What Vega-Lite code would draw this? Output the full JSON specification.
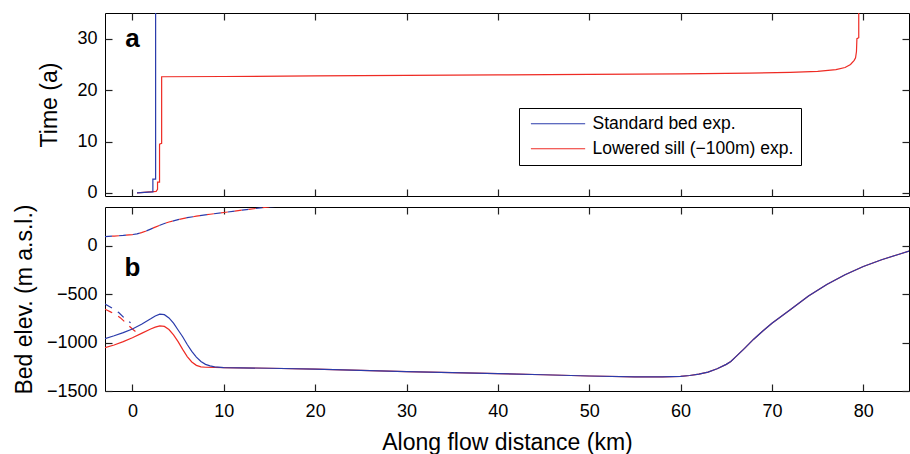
{
  "$schema": "https://vega.github.io/schema/vega-lite/v6.json",
  "padding": {"left": 13, "top": 11, "right": 0, "bottom": 0},
  "background": "white",
  "config": {
    "font": "Liberation Sans",
    "view": {"stroke": "black", "strokeWidth": 1},
    "axis": {"grid": false, "domain": false, "labelFont": "Liberation Sans", "labelFontSize": 18, "labelColor": "black", "titleFont": "Liberation Sans", "titleFontSize": 23, "titleFontWeight": "normal", "titleColor": "black"},
    "axisX": {"labelPadding": 11},
    "axisY": {"labelPadding": 8}
  },
  "bounds": "flush",
  "spacing": 11,
  "datasets": {
    "time": [
      {"exp": "Lowered sill (−100m) exp.", "i": 1, "km": 0.5, "t": 0.0},
      {"exp": "Lowered sill (−100m) exp.", "i": 2, "km": 2.6, "t": 0.3},
      {"exp": "Lowered sill (−100m) exp.", "i": 3, "km": 2.75, "t": 0.7},
      {"exp": "Lowered sill (−100m) exp.", "i": 4, "km": 2.75, "t": 2.1},
      {"exp": "Lowered sill (−100m) exp.", "i": 5, "km": 2.97, "t": 2.1},
      {"exp": "Lowered sill (−100m) exp.", "i": 6, "km": 2.97, "t": 9.5},
      {"exp": "Lowered sill (−100m) exp.", "i": 7, "km": 3.2, "t": 9.65},
      {"exp": "Lowered sill (−100m) exp.", "i": 8, "km": 3.2, "t": 22.6},
      {"exp": "Lowered sill (−100m) exp.", "i": 9, "km": 10, "t": 22.65},
      {"exp": "Lowered sill (−100m) exp.", "i": 10, "km": 20, "t": 22.75},
      {"exp": "Lowered sill (−100m) exp.", "i": 11, "km": 30, "t": 22.85},
      {"exp": "Lowered sill (−100m) exp.", "i": 12, "km": 40, "t": 22.95},
      {"exp": "Lowered sill (−100m) exp.", "i": 13, "km": 50, "t": 23.05},
      {"exp": "Lowered sill (−100m) exp.", "i": 14, "km": 60, "t": 23.15},
      {"exp": "Lowered sill (−100m) exp.", "i": 15, "km": 67.5, "t": 23.3},
      {"exp": "Lowered sill (−100m) exp.", "i": 16, "km": 72, "t": 23.45},
      {"exp": "Lowered sill (−100m) exp.", "i": 17, "km": 75, "t": 23.65},
      {"exp": "Lowered sill (−100m) exp.", "i": 18, "km": 77, "t": 24.0},
      {"exp": "Lowered sill (−100m) exp.", "i": 19, "km": 78, "t": 24.4},
      {"exp": "Lowered sill (−100m) exp.", "i": 20, "km": 78.6, "t": 25.0},
      {"exp": "Lowered sill (−100m) exp.", "i": 21, "km": 79.0, "t": 25.8},
      {"exp": "Lowered sill (−100m) exp.", "i": 22, "km": 79.15, "t": 26.3},
      {"exp": "Lowered sill (−100m) exp.", "i": 23, "km": 79.25, "t": 27.5},
      {"exp": "Lowered sill (−100m) exp.", "i": 24, "km": 79.3, "t": 30.0},
      {"exp": "Lowered sill (−100m) exp.", "i": 25, "km": 79.5, "t": 30.2},
      {"exp": "Lowered sill (−100m) exp.", "i": 26, "km": 79.5, "t": 35.5},
      {"exp": "Standard bed exp.", "i": 1, "km": 0.5, "t": 0.0},
      {"exp": "Standard bed exp.", "i": 2, "km": 2.2, "t": 0.2},
      {"exp": "Standard bed exp.", "i": 3, "km": 2.24, "t": 0.2},
      {"exp": "Standard bed exp.", "i": 4, "km": 2.24, "t": 2.7},
      {"exp": "Standard bed exp.", "i": 5, "km": 2.54, "t": 2.7},
      {"exp": "Standard bed exp.", "i": 6, "km": 2.54, "t": 35.5}
    ],
    "elev": [
      {"exp": "Standard bed exp.", "kind": "bed", "km": -3, "z": -960},
      {"exp": "Standard bed exp.", "kind": "bed", "km": -2, "z": -930},
      {"exp": "Standard bed exp.", "kind": "bed", "km": -1, "z": -897},
      {"exp": "Standard bed exp.", "kind": "bed", "km": 0, "z": -860},
      {"exp": "Standard bed exp.", "kind": "bed", "km": 1, "z": -810},
      {"exp": "Standard bed exp.", "kind": "bed", "km": 2, "z": -755},
      {"exp": "Standard bed exp.", "kind": "bed", "km": 2.5, "z": -725},
      {"exp": "Standard bed exp.", "kind": "bed", "km": 3, "z": -707},
      {"exp": "Standard bed exp.", "kind": "bed", "km": 3.5, "z": -712},
      {"exp": "Standard bed exp.", "kind": "bed", "km": 4, "z": -745},
      {"exp": "Standard bed exp.", "kind": "bed", "km": 4.5, "z": -800},
      {"exp": "Standard bed exp.", "kind": "bed", "km": 5, "z": -870},
      {"exp": "Standard bed exp.", "kind": "bed", "km": 5.5, "z": -940},
      {"exp": "Standard bed exp.", "kind": "bed", "km": 6, "z": -1020},
      {"exp": "Standard bed exp.", "kind": "bed", "km": 6.5, "z": -1090},
      {"exp": "Standard bed exp.", "kind": "bed", "km": 7, "z": -1150},
      {"exp": "Standard bed exp.", "kind": "bed", "km": 7.5, "z": -1195},
      {"exp": "Standard bed exp.", "kind": "bed", "km": 8, "z": -1225},
      {"exp": "Standard bed exp.", "kind": "bed", "km": 8.5, "z": -1240},
      {"exp": "Standard bed exp.", "kind": "bed", "km": 9, "z": -1250},
      {"exp": "Standard bed exp.", "kind": "bed", "km": 10, "z": -1258},
      {"exp": "Standard bed exp.", "kind": "bed", "km": 15, "z": -1265},
      {"exp": "Standard bed exp.", "kind": "bed", "km": 20, "z": -1275},
      {"exp": "Standard bed exp.", "kind": "bed", "km": 25, "z": -1288},
      {"exp": "Standard bed exp.", "kind": "bed", "km": 30, "z": -1300},
      {"exp": "Standard bed exp.", "kind": "bed", "km": 35, "z": -1310},
      {"exp": "Standard bed exp.", "kind": "bed", "km": 40, "z": -1320},
      {"exp": "Standard bed exp.", "kind": "bed", "km": 45, "z": -1332},
      {"exp": "Standard bed exp.", "kind": "bed", "km": 50, "z": -1345},
      {"exp": "Standard bed exp.", "kind": "bed", "km": 55, "z": -1355},
      {"exp": "Standard bed exp.", "kind": "bed", "km": 58, "z": -1355},
      {"exp": "Standard bed exp.", "kind": "bed", "km": 60, "z": -1348},
      {"exp": "Standard bed exp.", "kind": "bed", "km": 61, "z": -1340},
      {"exp": "Standard bed exp.", "kind": "bed", "km": 62, "z": -1325},
      {"exp": "Standard bed exp.", "kind": "bed", "km": 63, "z": -1305},
      {"exp": "Standard bed exp.", "kind": "bed", "km": 64, "z": -1270},
      {"exp": "Standard bed exp.", "kind": "bed", "km": 65, "z": -1225},
      {"exp": "Standard bed exp.", "kind": "bed", "km": 65.5, "z": -1195},
      {"exp": "Standard bed exp.", "kind": "bed", "km": 66, "z": -1150},
      {"exp": "Standard bed exp.", "kind": "bed", "km": 67, "z": -1060},
      {"exp": "Standard bed exp.", "kind": "bed", "km": 68, "z": -965},
      {"exp": "Standard bed exp.", "kind": "bed", "km": 69, "z": -880},
      {"exp": "Standard bed exp.", "kind": "bed", "km": 70, "z": -800},
      {"exp": "Standard bed exp.", "kind": "bed", "km": 72, "z": -660},
      {"exp": "Standard bed exp.", "kind": "bed", "km": 74, "z": -520},
      {"exp": "Standard bed exp.", "kind": "bed", "km": 76, "z": -400},
      {"exp": "Standard bed exp.", "kind": "bed", "km": 78, "z": -300},
      {"exp": "Standard bed exp.", "kind": "bed", "km": 80, "z": -215},
      {"exp": "Standard bed exp.", "kind": "bed", "km": 82, "z": -145},
      {"exp": "Standard bed exp.", "kind": "bed", "km": 84, "z": -85},
      {"exp": "Standard bed exp.", "kind": "bed", "km": 85, "z": -55},
      {"exp": "Lowered sill (−100m) exp.", "kind": "bed", "km": -3, "z": -1052},
      {"exp": "Lowered sill (−100m) exp.", "kind": "bed", "km": -2, "z": -1025},
      {"exp": "Lowered sill (−100m) exp.", "kind": "bed", "km": -1, "z": -990},
      {"exp": "Lowered sill (−100m) exp.", "kind": "bed", "km": 0, "z": -950},
      {"exp": "Lowered sill (−100m) exp.", "kind": "bed", "km": 1, "z": -905},
      {"exp": "Lowered sill (−100m) exp.", "kind": "bed", "km": 2, "z": -860},
      {"exp": "Lowered sill (−100m) exp.", "kind": "bed", "km": 2.5, "z": -840},
      {"exp": "Lowered sill (−100m) exp.", "kind": "bed", "km": 3, "z": -827},
      {"exp": "Lowered sill (−100m) exp.", "kind": "bed", "km": 3.5, "z": -833},
      {"exp": "Lowered sill (−100m) exp.", "kind": "bed", "km": 4, "z": -865},
      {"exp": "Lowered sill (−100m) exp.", "kind": "bed", "km": 4.5, "z": -920},
      {"exp": "Lowered sill (−100m) exp.", "kind": "bed", "km": 5, "z": -990},
      {"exp": "Lowered sill (−100m) exp.", "kind": "bed", "km": 5.5, "z": -1070},
      {"exp": "Lowered sill (−100m) exp.", "kind": "bed", "km": 6, "z": -1145},
      {"exp": "Lowered sill (−100m) exp.", "kind": "bed", "km": 6.5, "z": -1200},
      {"exp": "Lowered sill (−100m) exp.", "kind": "bed", "km": 7, "z": -1235},
      {"exp": "Lowered sill (−100m) exp.", "kind": "bed", "km": 7.5, "z": -1250},
      {"exp": "Lowered sill (−100m) exp.", "kind": "bed", "km": 8, "z": -1255},
      {"exp": "Lowered sill (−100m) exp.", "kind": "bed", "km": 9, "z": -1257},
      {"exp": "Lowered sill (−100m) exp.", "kind": "bed", "km": 10, "z": -1258},
      {"exp": "Lowered sill (−100m) exp.", "kind": "bed", "km": 15, "z": -1265},
      {"exp": "Lowered sill (−100m) exp.", "kind": "bed", "km": 20, "z": -1275},
      {"exp": "Lowered sill (−100m) exp.", "kind": "bed", "km": 25, "z": -1288},
      {"exp": "Lowered sill (−100m) exp.", "kind": "bed", "km": 30, "z": -1300},
      {"exp": "Lowered sill (−100m) exp.", "kind": "bed", "km": 35, "z": -1310},
      {"exp": "Lowered sill (−100m) exp.", "kind": "bed", "km": 40, "z": -1320},
      {"exp": "Lowered sill (−100m) exp.", "kind": "bed", "km": 45, "z": -1332},
      {"exp": "Lowered sill (−100m) exp.", "kind": "bed", "km": 50, "z": -1345},
      {"exp": "Lowered sill (−100m) exp.", "kind": "bed", "km": 55, "z": -1355},
      {"exp": "Lowered sill (−100m) exp.", "kind": "bed", "km": 58, "z": -1355},
      {"exp": "Lowered sill (−100m) exp.", "kind": "bed", "km": 60, "z": -1348},
      {"exp": "Lowered sill (−100m) exp.", "kind": "bed", "km": 61, "z": -1340},
      {"exp": "Lowered sill (−100m) exp.", "kind": "bed", "km": 62, "z": -1325},
      {"exp": "Lowered sill (−100m) exp.", "kind": "bed", "km": 63, "z": -1305},
      {"exp": "Lowered sill (−100m) exp.", "kind": "bed", "km": 64, "z": -1270},
      {"exp": "Lowered sill (−100m) exp.", "kind": "bed", "km": 65, "z": -1225},
      {"exp": "Lowered sill (−100m) exp.", "kind": "bed", "km": 65.5, "z": -1195},
      {"exp": "Lowered sill (−100m) exp.", "kind": "bed", "km": 66, "z": -1150},
      {"exp": "Lowered sill (−100m) exp.", "kind": "bed", "km": 67, "z": -1060},
      {"exp": "Lowered sill (−100m) exp.", "kind": "bed", "km": 68, "z": -965},
      {"exp": "Lowered sill (−100m) exp.", "kind": "bed", "km": 69, "z": -880},
      {"exp": "Lowered sill (−100m) exp.", "kind": "bed", "km": 70, "z": -800},
      {"exp": "Lowered sill (−100m) exp.", "kind": "bed", "km": 72, "z": -660},
      {"exp": "Lowered sill (−100m) exp.", "kind": "bed", "km": 74, "z": -520},
      {"exp": "Lowered sill (−100m) exp.", "kind": "bed", "km": 76, "z": -400},
      {"exp": "Lowered sill (−100m) exp.", "kind": "bed", "km": 78, "z": -300},
      {"exp": "Lowered sill (−100m) exp.", "kind": "bed", "km": 80, "z": -215},
      {"exp": "Lowered sill (−100m) exp.", "kind": "bed", "km": 82, "z": -145},
      {"exp": "Lowered sill (−100m) exp.", "kind": "bed", "km": 84, "z": -85},
      {"exp": "Lowered sill (−100m) exp.", "kind": "bed", "km": 85, "z": -55},
      {"exp": "Standard bed exp.", "kind": "surf", "km": -3, "z": 95},
      {"exp": "Standard bed exp.", "kind": "surf", "km": -2, "z": 100},
      {"exp": "Standard bed exp.", "kind": "surf", "km": -1, "z": 106},
      {"exp": "Standard bed exp.", "kind": "surf", "km": 0, "z": 115},
      {"exp": "Standard bed exp.", "kind": "surf", "km": 0.5, "z": 122},
      {"exp": "Standard bed exp.", "kind": "surf", "km": 1, "z": 135},
      {"exp": "Standard bed exp.", "kind": "surf", "km": 1.5, "z": 152},
      {"exp": "Standard bed exp.", "kind": "surf", "km": 2, "z": 172},
      {"exp": "Standard bed exp.", "kind": "surf", "km": 2.5, "z": 192},
      {"exp": "Standard bed exp.", "kind": "surf", "km": 3, "z": 212},
      {"exp": "Standard bed exp.", "kind": "surf", "km": 3.5, "z": 230},
      {"exp": "Standard bed exp.", "kind": "surf", "km": 4, "z": 245},
      {"exp": "Standard bed exp.", "kind": "surf", "km": 5, "z": 270},
      {"exp": "Standard bed exp.", "kind": "surf", "km": 6, "z": 290},
      {"exp": "Standard bed exp.", "kind": "surf", "km": 7, "z": 305},
      {"exp": "Standard bed exp.", "kind": "surf", "km": 8.5, "z": 325},
      {"exp": "Standard bed exp.", "kind": "surf", "km": 10, "z": 343},
      {"exp": "Standard bed exp.", "kind": "surf", "km": 12, "z": 368},
      {"exp": "Standard bed exp.", "kind": "surf", "km": 14, "z": 390},
      {"exp": "Standard bed exp.", "kind": "surf", "km": 16.5, "z": 415},
      {"exp": "Lowered sill (−100m) exp.", "kind": "surf", "km": -3, "z": 95},
      {"exp": "Lowered sill (−100m) exp.", "kind": "surf", "km": -2, "z": 100},
      {"exp": "Lowered sill (−100m) exp.", "kind": "surf", "km": -1, "z": 106},
      {"exp": "Lowered sill (−100m) exp.", "kind": "surf", "km": 0, "z": 115},
      {"exp": "Lowered sill (−100m) exp.", "kind": "surf", "km": 0.5, "z": 122},
      {"exp": "Lowered sill (−100m) exp.", "kind": "surf", "km": 1, "z": 135},
      {"exp": "Lowered sill (−100m) exp.", "kind": "surf", "km": 1.5, "z": 152},
      {"exp": "Lowered sill (−100m) exp.", "kind": "surf", "km": 2, "z": 172},
      {"exp": "Lowered sill (−100m) exp.", "kind": "surf", "km": 2.5, "z": 192},
      {"exp": "Lowered sill (−100m) exp.", "kind": "surf", "km": 3, "z": 212},
      {"exp": "Lowered sill (−100m) exp.", "kind": "surf", "km": 3.5, "z": 230},
      {"exp": "Lowered sill (−100m) exp.", "kind": "surf", "km": 4, "z": 245},
      {"exp": "Lowered sill (−100m) exp.", "kind": "surf", "km": 5, "z": 270},
      {"exp": "Lowered sill (−100m) exp.", "kind": "surf", "km": 6, "z": 290},
      {"exp": "Lowered sill (−100m) exp.", "kind": "surf", "km": 7, "z": 305},
      {"exp": "Lowered sill (−100m) exp.", "kind": "surf", "km": 8.5, "z": 325},
      {"exp": "Lowered sill (−100m) exp.", "kind": "surf", "km": 10, "z": 343},
      {"exp": "Lowered sill (−100m) exp.", "kind": "surf", "km": 12, "z": 368},
      {"exp": "Lowered sill (−100m) exp.", "kind": "surf", "km": 14, "z": 390},
      {"exp": "Lowered sill (−100m) exp.", "kind": "surf", "km": 16.5, "z": 415},
      {"exp": "Standard bed exp.", "kind": "base", "km": -3, "z": -603},
      {"exp": "Standard bed exp.", "kind": "base", "km": -2.2, "z": -645},
      {"exp": "Standard bed exp.", "kind": "base", "km": -1.5, "z": -690},
      {"exp": "Standard bed exp.", "kind": "base", "km": -0.93, "z": -742},
      {"exp": "Standard bed exp.", "kind": "base", "km": -0.2, "z": -795},
      {"exp": "Lowered sill (−100m) exp.", "kind": "base", "km": -3, "z": -655},
      {"exp": "Lowered sill (−100m) exp.", "kind": "base", "km": -2.4, "z": -683},
      {"exp": "Lowered sill (−100m) exp.", "kind": "base", "km": -1.8, "z": -712},
      {"exp": "Lowered sill (−100m) exp.", "kind": "base", "km": -1.3, "z": -745},
      {"exp": "Lowered sill (−100m) exp.", "kind": "base", "km": -0.57, "z": -810},
      {"exp": "Lowered sill (−100m) exp.", "kind": "base", "km": 0, "z": -860},
      {"exp": "Lowered sill (−100m) exp.", "kind": "base", "km": 0.6, "z": -905}
    ]
  },
  "vconcat": [
    {
      "width": 804,
      "height": 183,
      "layer": [
        {
          "mark": {"type": "rule", "strokeDash": [1, 3], "color": "#5560a0", "strokeWidth": 1.2},
          "encoding": {
            "x": {"datum": 3, "type": "quantitative", "scale": {"domain": [-3, 85], "nice": false, "zero": false}, "axis": null}
          }
        },
        {
          "data": {"name": "time"},
          "mark": {"type": "line", "strokeWidth": 1.2, "clip": true},
          "encoding": {
            "x": {"field": "km", "type": "quantitative", "scale": {"domain": [-3, 85], "nice": false, "zero": false}, "axis": {"orient": "bottom", "values": [0, 10, 20, 30, 40, 50, 60, 70, 80], "labels": false, "title": null, "ticks": true, "tickSize": 7, "offset": -7, "tickColor": "#222222", "tickWidth": 1.2}},
            "y": {"field": "t", "type": "quantitative", "scale": {"domain": [-0.6, 35], "nice": false, "zero": false}, "axis": {"orient": "left", "values": [0, 10, 20, 30], "title": "Time (a)", "titlePadding": 15, "ticks": true, "tickSize": 7, "offset": -7, "tickColor": "#222222", "tickWidth": 1.2}},
            "color": {
              "field": "exp", "type": "nominal",
              "scale": {"domain": ["Standard bed exp.", "Lowered sill (−100m) exp."], "range": ["#2a3bab", "#ee2b24"]},
              "legend": {"orient": "none", "legendX": 414, "legendY": 95, "title": null, "symbolType": "M-0.55,0H7.2", "symbolSize": 196, "symbolStrokeWidth": 1.2, "labelFontSize": 17.5, "labelFont": "Liberation Sans", "labelColor": "black", "labelOffset": 49, "labelLimit": 400, "padding": 7, "rowPadding": 6, "strokeColor": "black", "fillColor": "white", "cornerRadius": 0}
            },
            "order": {"field": "i", "type": "quantitative"}
          }
        },
        {
          "data": {"values": [{"km": 0, "t": 28.4, "label": "a"}]},
          "mark": {"type": "text", "fontSize": 26, "fontWeight": "bold", "align": "center", "baseline": "alphabetic", "color": "black"},
          "encoding": {
            "x": {"field": "km", "type": "quantitative", "scale": {"domain": [-3, 85], "nice": false, "zero": false}, "axis": {"orient": "top", "values": [0, 10, 20, 30, 40, 50, 60, 70, 80], "labels": false, "title": null, "ticks": true, "tickSize": 7, "offset": -7, "tickColor": "#222222", "tickWidth": 1.2}},
            "y": {"field": "t", "type": "quantitative", "scale": {"domain": [-0.6, 35], "nice": false, "zero": false}, "axis": {"orient": "right", "values": [0, 10, 20, 30], "labels": false, "title": null, "ticks": true, "tickSize": 7, "offset": -7, "tickColor": "#222222", "tickWidth": 1.2}},
            "text": {"field": "label"}
          }
        }
      ],
      "resolve": {"axis": {"x": "independent", "y": "independent"}}
    },
    {
      "width": 804,
      "height": 184,
      "layer": [
        {
          "mark": {"type": "rule", "strokeDash": [12, 10], "color": "black", "strokeWidth": 1},
          "encoding": {
            "y": {"datum": 0, "type": "quantitative", "scale": {"domain": [-1500, 400], "nice": false, "zero": false}, "axis": null}
          }
        },
        {
          "mark": {"type": "rule", "strokeDash": [1, 3], "color": "#666677", "strokeWidth": 1.2},
          "encoding": {
            "x": {"datum": 3, "type": "quantitative", "scale": {"domain": [-3, 85], "nice": false, "zero": false}, "axis": null}
          }
        },
        {
          "data": {"name": "elev"},
          "transform": [{"filter": "datum.kind == 'surf' && datum.exp == 'Standard bed exp.'"}],
          "mark": {"type": "line", "strokeWidth": 1.2, "clip": true, "strokeDash": [7, 7]},
          "encoding": {
            "x": {"field": "km", "type": "quantitative", "scale": {"domain": [-3, 85], "nice": false, "zero": false}, "axis": null},
            "y": {"field": "z", "type": "quantitative", "scale": {"domain": [-1500, 400], "nice": false, "zero": false}, "axis": null},
            "color": {"field": "exp", "type": "nominal", "scale": {"domain": ["Standard bed exp.", "Lowered sill (−100m) exp."], "range": ["#2a3bab", "#ee2b24"]}, "legend": null}
          }
        },
        {
          "data": {"name": "elev"},
          "transform": [{"filter": "datum.kind == 'surf' && datum.exp != 'Standard bed exp.'"}],
          "mark": {"type": "line", "strokeWidth": 1.2, "clip": true, "strokeDash": [7, 7], "strokeDashOffset": 7},
          "encoding": {
            "x": {"field": "km", "type": "quantitative", "scale": {"domain": [-3, 85], "nice": false, "zero": false}, "axis": null},
            "y": {"field": "z", "type": "quantitative", "scale": {"domain": [-1500, 400], "nice": false, "zero": false}, "axis": null},
            "color": {"field": "exp", "type": "nominal", "scale": {"domain": ["Standard bed exp.", "Lowered sill (−100m) exp."], "range": ["#2a3bab", "#ee2b24"]}, "legend": null}
          }
        },
        {
          "data": {"name": "elev"},
          "transform": [{"filter": "datum.kind == 'base'"}],
          "mark": {"type": "line", "strokeWidth": 1.2, "clip": true, "strokeDash": [8, 7]},
          "encoding": {
            "x": {"field": "km", "type": "quantitative", "scale": {"domain": [-3, 85], "nice": false, "zero": false}, "axis": null},
            "y": {"field": "z", "type": "quantitative", "scale": {"domain": [-1500, 400], "nice": false, "zero": false}, "axis": null},
            "color": {"field": "exp", "type": "nominal", "scale": {"domain": ["Standard bed exp.", "Lowered sill (−100m) exp."], "range": ["#2a3bab", "#ee2b24"]}, "legend": null}
          }
        },
        {
          "data": {"name": "elev"},
          "transform": [{"filter": "datum.kind == 'bed' && datum.exp != 'Standard bed exp.'"}],
          "mark": {"type": "line", "strokeWidth": 1.2, "clip": true},
          "encoding": {
            "x": {"field": "km", "type": "quantitative", "scale": {"domain": [-3, 85], "nice": false, "zero": false}, "axis": null},
            "y": {"field": "z", "type": "quantitative", "scale": {"domain": [-1500, 400], "nice": false, "zero": false}, "axis": null},
            "color": {"field": "exp", "type": "nominal", "scale": {"domain": ["Standard bed exp.", "Lowered sill (−100m) exp."], "range": ["#2a3bab", "#ee2b24"]}, "legend": null}
          }
        },
        {
          "data": {"name": "elev"},
          "transform": [{"filter": "datum.kind == 'bed' && datum.exp == 'Standard bed exp.'"}],
          "mark": {"type": "line", "strokeWidth": 1.2, "clip": true},
          "encoding": {
            "x": {"field": "km", "type": "quantitative", "scale": {"domain": [-3, 85], "nice": false, "zero": false}, "axis": {"orient": "bottom", "values": [0, 10, 20, 30, 40, 50, 60, 70, 80], "title": "Along flow distance (km)", "titlePadding": 11, "ticks": true, "tickSize": 7, "offset": -7, "tickColor": "#222222", "tickWidth": 1.2}},
            "y": {"field": "z", "type": "quantitative", "scale": {"domain": [-1500, 400], "nice": false, "zero": false}, "axis": {"orient": "left", "values": [-1500, -1000, -500, 0], "format": "d", "title": "Bed elev. (m a.s.l.)", "titlePadding": 9.5, "ticks": true, "tickSize": 7, "offset": -7, "tickColor": "#222222", "tickWidth": 1.2}},
            "color": {"field": "exp", "type": "nominal", "scale": {"domain": ["Standard bed exp.", "Lowered sill (−100m) exp."], "range": ["#2a3bab", "#ee2b24"]}, "legend": null}
          }
        },
        {
          "data": {"values": [{"km": 0, "z": -313, "label": "b"}]},
          "mark": {"type": "text", "fontSize": 26, "fontWeight": "bold", "align": "center", "baseline": "alphabetic", "color": "black"},
          "encoding": {
            "x": {"field": "km", "type": "quantitative", "scale": {"domain": [-3, 85], "nice": false, "zero": false}, "axis": {"orient": "top", "values": [0, 10, 20, 30, 40, 50, 60, 70, 80], "labels": false, "title": null, "ticks": true, "tickSize": 7, "offset": -7, "tickColor": "#222222", "tickWidth": 1.2}},
            "y": {"field": "z", "type": "quantitative", "scale": {"domain": [-1500, 400], "nice": false, "zero": false}, "axis": {"orient": "right", "values": [-1500, -1000, -500, 0], "labels": false, "title": null, "ticks": true, "tickSize": 7, "offset": -7, "tickColor": "#222222", "tickWidth": 1.2}},
            "text": {"field": "label"}
          }
        }
      ],
      "resolve": {"axis": {"x": "independent", "y": "independent"}}
    }
  ],
  "resolve": {"scale": {"color": "independent"}, "legend": {"color": "independent"}}
}
